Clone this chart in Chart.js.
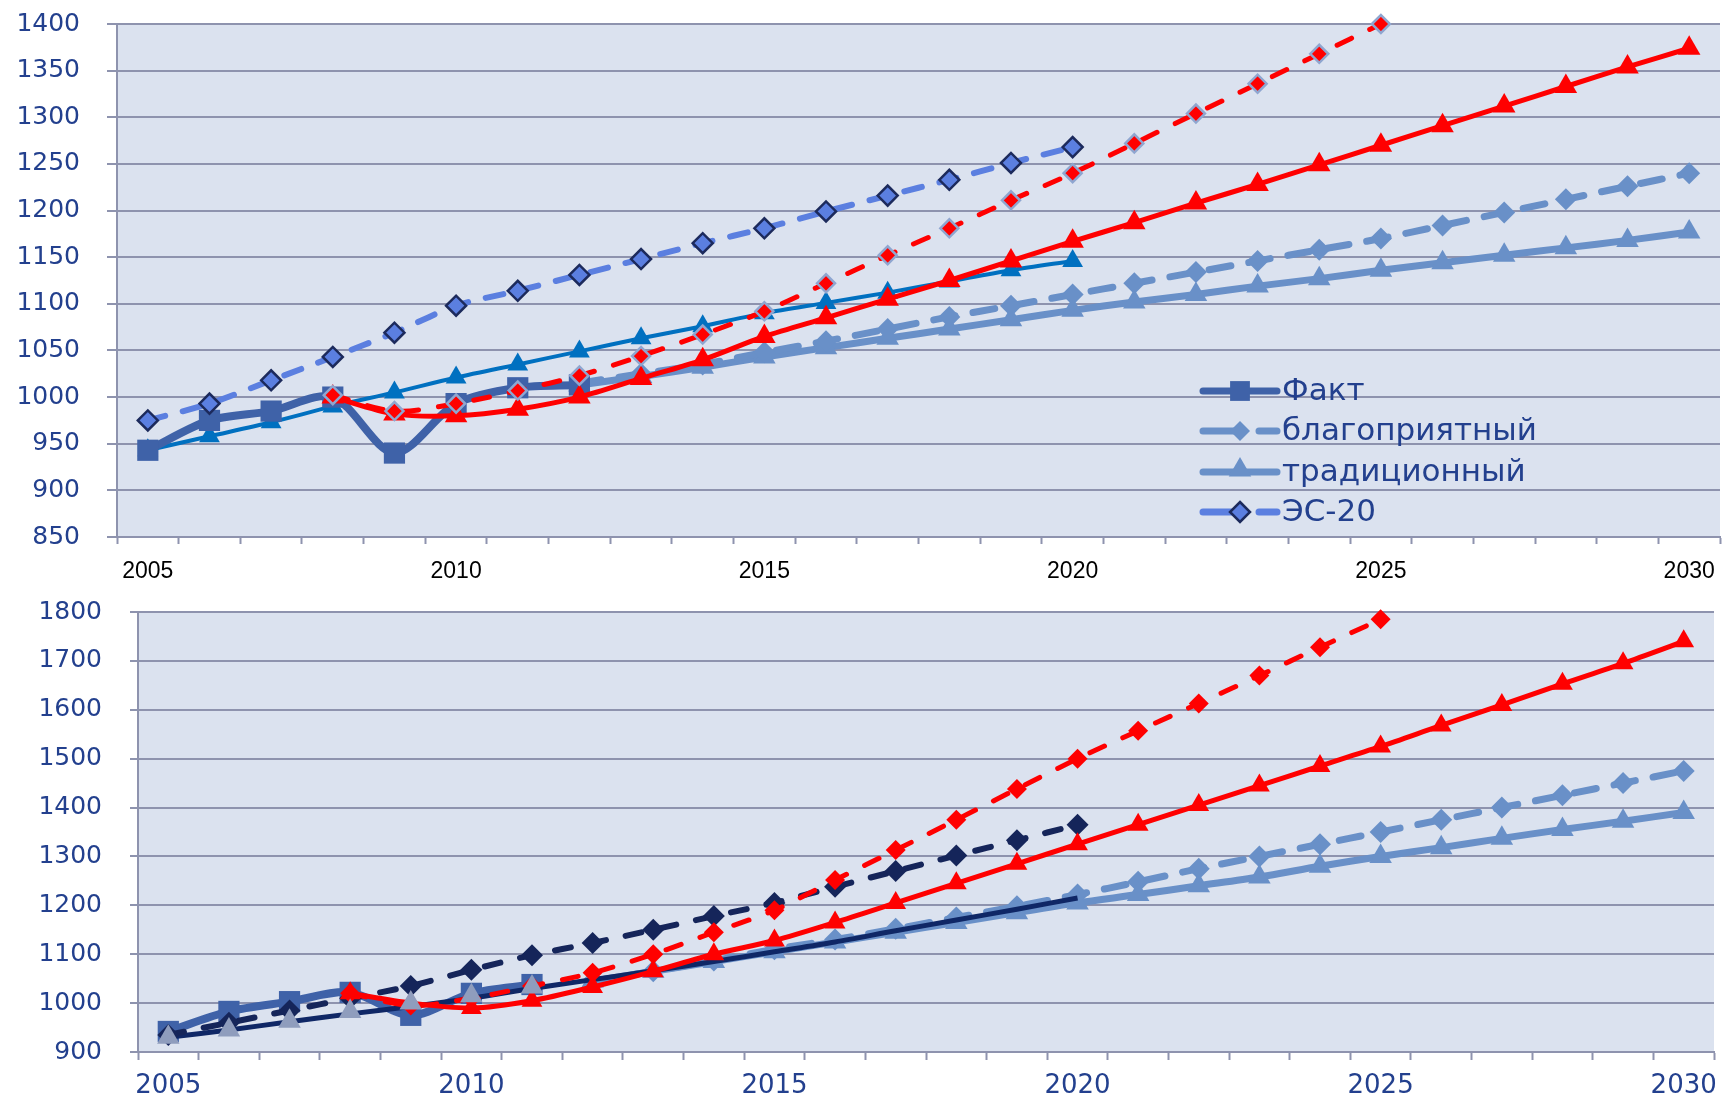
<!DOCTYPE html>
<html><head><meta charset="utf-8">
<script src="https://cdn.jsdelivr.net/npm/chart.js@4"></script>
<style>
html,body{margin:0;padding:0;background:#fff;width:1722px;height:1101px;overflow:hidden}
canvas{position:absolute;left:0}
#c1{top:0}
#c2{top:590px}
</style></head><body>
<canvas id="c1" width="1722" height="600"></canvas>
<canvas id="c2" width="1722" height="511"></canvas>
<script>
const years = [2005,2006,2007,2008,2009,2010,2011,2012,2013,2014,2015,2016,2017,2018,2019,2020,2021,2022,2023,2024,2025,2026,2027,2028,2029,2030];

// ---- top chart values ----
const topFact    = [943,975,985,1000,940,993,1010,1013,null,null,null,null,null,null,null,null,null,null,null,null,null,null,null,null,null,null];
const topES20    = [975,993,1018,1043,1069,1098,1114,1131,1148,1165,1181,1199,1216,1233,1251,1268,null,null,null,null,null,null,null,null,null,null];
const topBlue    = [943,958,973,990,1005,1021,1035,1049,1063,1076,1090,1101,1112,1124,1136,1146,null,null,null,null,null,null,null,null,null,null];
const topRed     = [null,null,null,1000,982,980,987,1000,1020,1040,1065,1085,1105,1125,1146,1167,1187,1208,1228,1249,1270,1291,1312,1333,1354,1374];
const topRedDash = [null,null,null,1002,985,993,1007,1023,1044,1067,1092,1122,1152,1181,1211,1240,1272,1304,1336,1368,1400,null,null,null,null,null];
const topFav     = [null,null,null,null,null,null,null,1015,1025,1035,1048,1060,1073,1086,1098,1110,1122,1134,1146,1158,1170,1184,1198,1212,1226,1240];
const topTrad    = [null,null,null,null,null,null,null,1013,1022,1032,1043,1053,1063,1073,1083,1093,1102,1110,1119,1127,1136,1144,1152,1160,1168,1177];
const topTicks   = [850,900,950,1000,1050,1100,1150,1200,1250,1300,1350,1400];

// ---- bottom chart values ----
const botFact     = [942,983,1003,1022,975,1020,1038,null,null,null,null,null,null,null,null,null,null,null,null,null,null,null,null,null,null,null];
const botNavy     = [930,945,962,978,993,1010,1030,1048,1066,1085,1105,1125,1148,1170,1192,1215,null,null,null,null,null,null,null,null,null,null];
const botNavyDash = [935,960,985,1010,1035,1068,1098,1123,1150,1178,1205,1238,1270,1302,1333,1365,null,null,null,null,null,null,null,null,null,null];
const botRedDash  = [null,null,null,1020,995,1010,1035,1062,1100,1145,1190,1252,1313,1375,1438,1500,1557,1613,1670,1728,1785,null,null,null,null,null];
const botRed      = [null,null,null,1020,1000,990,1005,1033,1065,1100,1128,1165,1205,1245,1285,1325,1365,1405,1445,1485,1525,1568,1610,1653,1695,1740];
const botFav      = [null,null,null,null,null,null,null,1045,1065,1087,1110,1130,1152,1175,1198,1222,1248,1275,1300,1325,1350,1375,1400,1425,1450,1475];
const botTrad     = [null,null,null,null,null,null,null,1045,1065,1085,1105,1125,1145,1165,1185,1205,1222,1240,1258,1280,1300,1318,1337,1355,1372,1390];
const botGrey     = [930,945,963,983,1000,1015,1033,null,null,null,null,null,null,null,null,null,null,null,null,null,null,null,null,null,null,null];
const botTicks    = [900,1000,1100,1200,1300,1400,1500,1600,1700,1800];

const legendLabels = ['Факт','благоприятный','традиционный','ЭС-20'];

const C = {
  fact:'#3F62A8', es:'#5B7FE0', esB:'#1C2A5C', blue:'#0070C0', red:'#FF0000',
  redB:'#8FA6D0', steel:'#6990C8', navy:'#0F2766', navyD:'#15255A', grey:'#8F9DBD',
  grid:'#8E93AE', bg:'#DBE2EF', txt:'#23408E'
};

function ds(label, data, o) {
  return Object.assign({
    label, data, clip:false, spanGaps:false, tension:0.3, fill:false,
    borderColor:o.color, backgroundColor:o.color, borderWidth:o.width||5,
    borderDash:o.dash||[], borderCapStyle:o.dash?'round':'butt', borderJoinStyle:'round',
    pointStyle:o.ps||false, pointRadius:o.r||0, pointHoverRadius:o.r||0,
    pointBackgroundColor:o.pfill||o.color, pointBorderColor:o.pb||o.color,
    pointBorderWidth:o.pbw||0, showLine:o.noLine?false:true
  });
}

const bgPlugin = {id:'bgp', beforeDraw(chart){
  const {ctx, chartArea:a} = chart;
  ctx.save(); ctx.fillStyle = C.bg; ctx.fillRect(a.left, a.top, a.right-a.left, a.bottom-a.top); ctx.restore();
}};

function drawMarker(ctx, type, x, y, r, fill, stroke, bw) {
  ctx.beginPath();
  if (type==='rect') { const s=r*Math.SQRT1_2; ctx.rect(x-s,y-s,2*s,2*s); }
  else if (type==='rectRot') { ctx.moveTo(x,y-r); ctx.lineTo(x+r,y); ctx.lineTo(x,y+r); ctx.lineTo(x-r,y); ctx.closePath(); }
  else if (type==='triangle') { ctx.moveTo(x,y-r); ctx.lineTo(x+r*0.866,y+r*0.5); ctx.lineTo(x-r*0.866,y+r*0.5); ctx.closePath(); }
  ctx.fillStyle=fill; ctx.fill();
  if (bw>0){ ctx.lineWidth=bw; ctx.strokeStyle=stroke; ctx.stroke(); }
}

const legendPlugin = {id:'lgd', afterDraw(chart){
  const ctx = chart.ctx;
  const items = [
    {color:C.fact, dashed:false, m:'rect', r:14, fill:C.fact, b:C.fact, bw:0},
    {color:C.steel, dashed:true, m:'rectRot', r:10, fill:C.steel, b:C.steel, bw:0},
    {color:C.steel, dashed:false, m:'triangle', r:13, fill:C.steel, b:C.steel, bw:0},
    {color:C.es, dashed:true, m:'rectRot', r:10, fill:C.es, b:C.esB, bw:2.5}
  ];
  const x0=1203, x1=1277, xm=1240, ys=[391,431,472,512];
  ctx.save();
  items.forEach((it,i)=>{
    const y=ys[i];
    ctx.strokeStyle=it.color; ctx.lineWidth=7; ctx.lineCap='round';
    ctx.beginPath();
    if (it.dashed){ ctx.moveTo(x0,y); ctx.lineTo(1240,y); ctx.moveTo(1259,y); ctx.lineTo(x1,y); }
    else { ctx.moveTo(x0,y); ctx.lineTo(x1,y); }
    ctx.stroke();
    drawMarker(ctx, it.m, xm, it.m==='triangle'?y-2:y, it.r, it.fill, it.b, it.bw);
    ctx.fillStyle=C.txt; ctx.font='31px "DejaVu Sans"'; ctx.textBaseline='middle'; ctx.textAlign='left';
    ctx.fillText(legendLabels[i], 1282, y+1);
  });
  ctx.restore();
}};

function scalesFor(o){
  return {
    x:{type:'category', offset:true,
      grid:{offset:true, drawOnChartArea:false, drawTicks:true, tickLength:o.xTick, tickColor:C.grid, tickWidth:2},
      border:{color:C.grid, width:2},
      ticks:{autoSkip:false, maxRotation:0, minRotation:0, padding:o.xPad, color:o.xColor,
        font:{family:o.xFont, size:o.xSize},
        callback:(v,i)=> (years[i]%5===0 ? String(years[i]) : '')},
      afterFit:s=>{s.height=o.xH; s.paddingLeft=0; s.paddingRight=0;}
    },
    y:{type:'linear', min:o.min, max:o.max,
      afterBuildTicks:s=>{s.ticks=o.ticks.map(v=>({value:v}));},
      ticks:{padding:o.yPad, color:C.txt, font:{family:'DejaVu Sans', size:25}, callback:v=>String(v)},
      grid:{color:C.grid, lineWidth:2, tickLength:o.yTick, tickColor:C.grid},
      border:{color:C.grid, width:2},
      afterFit:s=>{s.width=o.yW; s.paddingTop=0; s.paddingBottom=0;}
    }
  };
}

new Chart(document.getElementById('c1'), {
  type:'line',
  data:{labels:years, datasets:[
    ds('ЭС-20', topES20, {color:C.es, width:6, dash:[18,18], ps:'rectRot', r:10, pfill:C.es, pb:C.esB, pbw:2.5}),
    ds('красный пунктир', topRedDash, {color:C.red, width:5, dash:[16,20], ps:'rectRot', r:9, pfill:C.red, pb:C.redB, pbw:2.5}),
    ds('красный', topRed, {color:C.red, width:5, ps:'triangle', r:13}),
    ds('Факт', topFact, {color:C.fact, width:8, ps:'rect', r:15}),
    ds('синий', topBlue, {color:C.blue, width:4, ps:'triangle', r:12}),
    ds('благоприятный', topFav, {color:C.steel, width:7, dash:[22,18], ps:'rectRot', r:11}),
    ds('традиционный', topTrad, {color:C.steel, width:7, ps:'triangle', r:13})
  ]},
  options:{responsive:false, animation:false, devicePixelRatio:1,
    layout:{autoPadding:false, padding:{top:24, right:2, left:0, bottom:0}},
    plugins:{legend:{display:false}, tooltip:{enabled:false}},
    scales:scalesFor({min:850, max:1400, ticks:topTicks, xTick:7, xPad:14, xColor:'#000', xFont:'Liberation Sans', xSize:23, xH:63, yPad:27, yTick:10, yW:117})
  },
  plugins:[bgPlugin, legendPlugin]
});

new Chart(document.getElementById('c2'), {
  type:'line',
  data:{labels:years, datasets:[
    ds('серый', botGrey, {color:C.grey, noLine:true, ps:'triangle', r:13}),
    ds('красный пунктир', botRedDash, {color:C.red, width:5, dash:[16,20], ps:'rectRot', r:10}),
    ds('красный', botRed, {color:C.red, width:5, ps:'triangle', r:12}),
    ds('пунктир', botNavyDash, {color:C.navyD, width:6, dash:[16,20], ps:'rectRot', r:11}),
    ds('линия', botNavy, {color:C.navy, width:5}),
    ds('традиционный', botTrad, {color:C.steel, width:7, ps:'triangle', r:13}),
    ds('благоприятный', botFav, {color:C.steel, width:7, dash:[22,18], ps:'rectRot', r:11}),
    ds('Факт', botFact, {color:C.fact, width:8, ps:'rect', r:15})
  ]},
  options:{responsive:false, animation:false, devicePixelRatio:1,
    layout:{autoPadding:false, padding:{top:22, right:8, left:0, bottom:0}},
    plugins:{legend:{display:false}, tooltip:{enabled:false}},
    scales:scalesFor({min:900, max:1800, ticks:botTicks, xTick:8, xPad:11, xColor:C.txt, xFont:'DejaVu Sans', xSize:26, xH:49, yPad:28, yTick:8, yW:138})
  },
  plugins:[bgPlugin]
});
</script>
</body></html>
